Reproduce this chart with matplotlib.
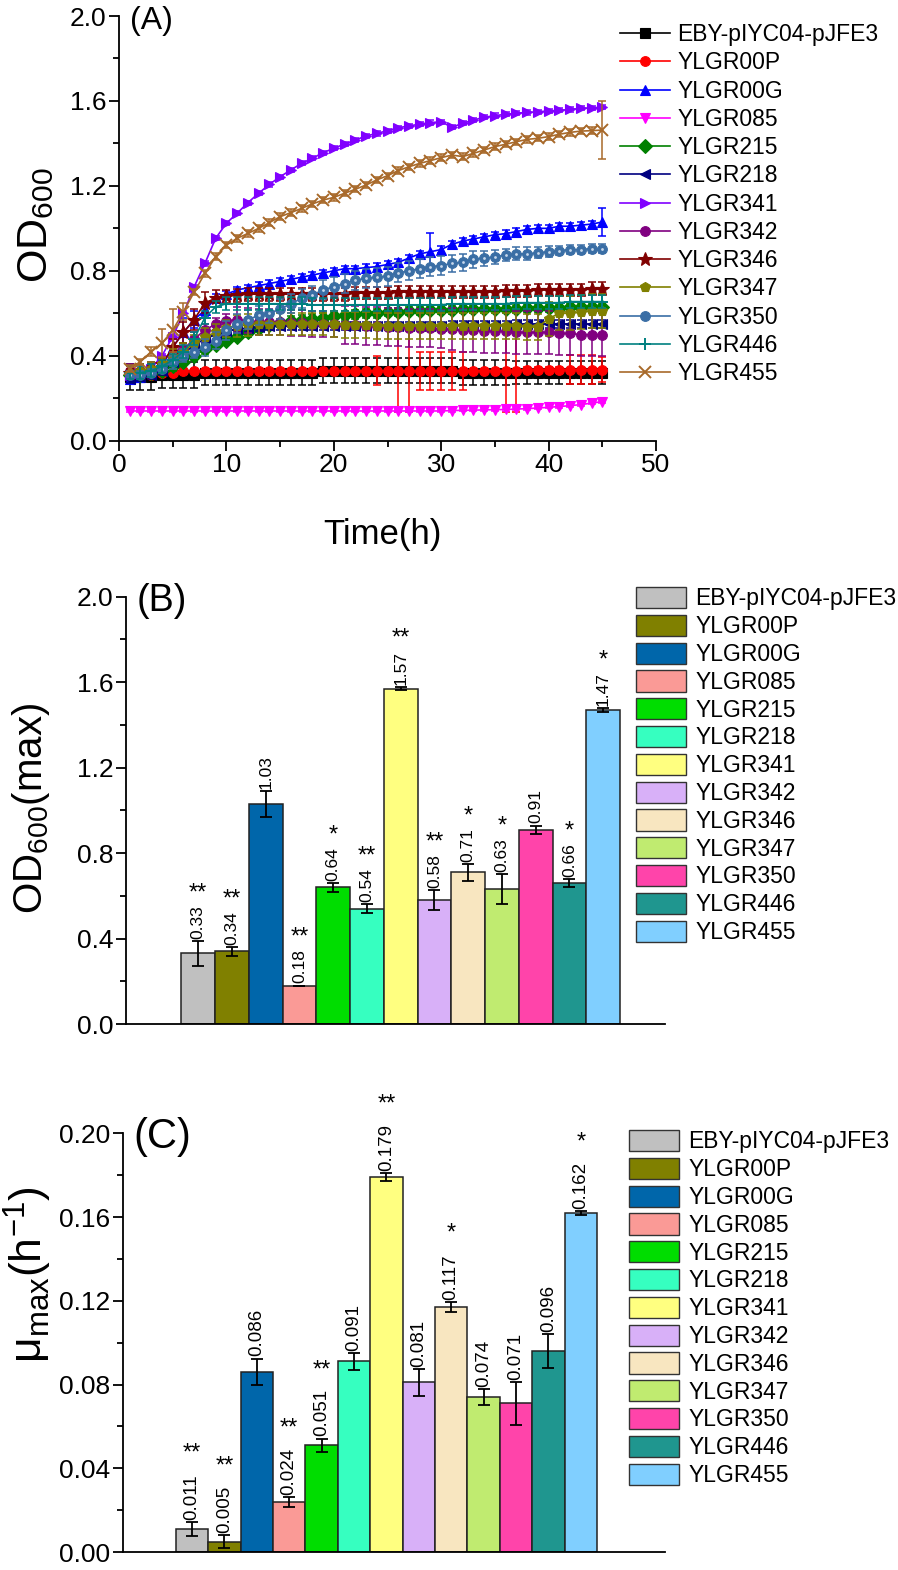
import numpy as np
import matplotlib.pyplot as plt
from matplotlib.patches import Patch

plt.rcParams['font.family'] = ['Liberation Sans', 'DejaVu Sans']
plt.rcParams['mathtext.fontset'] = 'custom'
plt.rcParams['mathtext.rm'] = 'Liberation Sans'
plt.rcParams['mathtext.it'] = 'Liberation Sans:italic'

# ---------------- data ----------------
strains = ['EBY-pIYC04-pJFE3', 'YLGR00P', 'YLGR00G', 'YLGR085', 'YLGR215', 'YLGR218',
           'YLGR341', 'YLGR342', 'YLGR346', 'YLGR347', 'YLGR350', 'YLGR446', 'YLGR455']

hours = list(range(1, 46))

od_eby = [0.30, 0.30, 0.30, 0.31, 0.31, 0.31, 0.31, 0.32, 0.32, 0.32, 0.32, 0.32, 0.32, 0.32, 0.32,
          0.32, 0.32, 0.32, 0.33, 0.33, 0.33, 0.33, 0.33, 0.33, 0.33, 0.33, 0.33, 0.33, 0.33, 0.33,
          0.33, 0.32, 0.32, 0.32, 0.32, 0.32, 0.32, 0.32, 0.32, 0.32, 0.32, 0.32, 0.32, 0.32, 0.32]
err_eby = [0.06, 0.06, 0.06, 0.06, 0.06, 0.06, 0.06, 0.06, 0.06, 0.06, 0.06, 0.06, 0.06, 0.06, 0.06,
           0.06, 0.06, 0.06, 0.06, 0.06, 0.06, 0.06, 0.06, 0.06, 0.06, 0.06, 0.06, 0.06, 0.06, 0.06,
           0.06, 0.06, 0.06, 0.06, 0.06, 0.06, 0.055, 0.055, 0.055, 0.055, 0.055, 0.055, 0.055, 0.055, 0.055]

od_00p = [0.31, 0.31, 0.31, 0.32, 0.32, 0.33, 0.33, 0.33, 0.33, 0.33, 0.33, 0.33, 0.33, 0.33, 0.33,
          0.33, 0.33, 0.33, 0.33, 0.33, 0.33, 0.33, 0.33, 0.33, 0.33, 0.33, 0.33, 0.33, 0.33, 0.33,
          0.33, 0.33, 0.33, 0.33, 0.33, 0.33, 0.33, 0.335, 0.335, 0.335, 0.335, 0.335, 0.335, 0.335, 0.335]
err_00p = [0.01, 0.01, 0.01, 0.01, 0.01, 0.01, 0.01, 0.01, 0.01, 0.01, 0.01, 0.01, 0.01, 0.01, 0.01,
           0.01, 0.01, 0.01, 0.01, 0.01, 0.01, 0.01, 0.01, 0.07, 0.01, 0.195, 0.195, 0.09, 0.09, 0.09,
           0.09, 0.09, 0.01, 0.01, 0.01, 0.195, 0.195, 0.01, 0.01, 0.01, 0.01, 0.07, 0.07, 0.07, 0.06]

od_00g = [0.29, 0.30, 0.325, 0.35, 0.44, 0.51, 0.57, 0.615, 0.67, 0.69, 0.71, 0.72, 0.73, 0.74, 0.75,
          0.76, 0.77, 0.78, 0.79, 0.80, 0.81, 0.81, 0.815, 0.82, 0.83, 0.84, 0.86, 0.88, 0.89, 0.90,
          0.925, 0.94, 0.95, 0.96, 0.97, 0.975, 0.985, 0.995, 1.0, 1.0, 1.01, 1.01, 1.015, 1.02, 1.03]
err_00g = [0.02, 0.02, 0.02, 0.03, 0.04, 0.07, 0.04, 0.03, 0.02, 0.015, 0.015, 0.015, 0.015, 0.015, 0.015,
           0.015, 0.015, 0.015, 0.015, 0.015, 0.015, 0.015, 0.015, 0.015, 0.015, 0.015, 0.015, 0.015, 0.09, 0.015,
           0.015, 0.015, 0.015, 0.015, 0.015, 0.015, 0.015, 0.015, 0.015, 0.015, 0.015, 0.015, 0.015, 0.015, 0.065]

od_085 = [0.14, 0.14, 0.14, 0.14, 0.14, 0.14, 0.14, 0.14, 0.14, 0.14, 0.14, 0.14, 0.14, 0.14, 0.14,
          0.14, 0.14, 0.14, 0.14, 0.14, 0.14, 0.14, 0.14, 0.14, 0.14, 0.14, 0.14, 0.14, 0.14, 0.14,
          0.142, 0.143, 0.144, 0.145, 0.146, 0.147, 0.149, 0.151, 0.154, 0.157, 0.161, 0.165, 0.17, 0.177, 0.184]
err_085 = [0.005, 0.005, 0.005, 0.005, 0.005, 0.005, 0.005, 0.005, 0.005, 0.005, 0.005, 0.005, 0.005, 0.005, 0.005,
           0.005, 0.005, 0.005, 0.005, 0.005, 0.005, 0.005, 0.005, 0.005, 0.005, 0.005, 0.005, 0.005, 0.005, 0.005,
           0.005, 0.005, 0.005, 0.005, 0.005, 0.005, 0.005, 0.005, 0.005, 0.005, 0.005, 0.005, 0.005, 0.005, 0.005]

od_215 = [0.31, 0.31, 0.32, 0.33, 0.35, 0.37, 0.40, 0.43, 0.45, 0.47, 0.49, 0.51, 0.53, 0.545, 0.555,
          0.565, 0.57, 0.575, 0.58, 0.585, 0.59, 0.595, 0.60, 0.60, 0.605, 0.605, 0.61, 0.61, 0.615, 0.615,
          0.615, 0.62, 0.62, 0.62, 0.62, 0.62, 0.62, 0.625, 0.625, 0.625, 0.625, 0.63, 0.63, 0.63, 0.63]
err_215 = [0.02, 0.02, 0.02, 0.02, 0.02, 0.02, 0.02, 0.02, 0.02, 0.02, 0.02, 0.02, 0.02, 0.02, 0.02,
           0.02, 0.02, 0.02, 0.02, 0.02, 0.02, 0.02, 0.02, 0.02, 0.02, 0.02, 0.02, 0.02, 0.02, 0.02,
           0.02, 0.02, 0.02, 0.02, 0.02, 0.02, 0.02, 0.02, 0.02, 0.02, 0.02, 0.02, 0.02, 0.02, 0.02]

od_218 = [0.29, 0.30, 0.31, 0.33, 0.37, 0.41, 0.45, 0.48, 0.50, 0.515, 0.525, 0.53, 0.535, 0.54, 0.54,
          0.54, 0.54, 0.54, 0.54, 0.54, 0.54, 0.54, 0.54, 0.54, 0.54, 0.54, 0.54, 0.54, 0.54, 0.54,
          0.545, 0.545, 0.545, 0.545, 0.545, 0.545, 0.55, 0.55, 0.55, 0.55, 0.55, 0.55, 0.55, 0.55, 0.55]
err_218 = [0.02, 0.02, 0.02, 0.02, 0.02, 0.02, 0.02, 0.02, 0.02, 0.02, 0.02, 0.02, 0.02, 0.02, 0.02,
           0.02, 0.02, 0.02, 0.02, 0.02, 0.02, 0.02, 0.02, 0.02, 0.02, 0.02, 0.02, 0.02, 0.02, 0.02,
           0.02, 0.02, 0.02, 0.02, 0.02, 0.02, 0.02, 0.02, 0.02, 0.02, 0.02, 0.02, 0.02, 0.02, 0.02]

od_341 = [0.31, 0.32, 0.34, 0.40, 0.49, 0.60, 0.725, 0.835, 0.953, 1.024, 1.071, 1.121, 1.165, 1.207, 1.243,
          1.275, 1.306, 1.33, 1.356, 1.377, 1.397, 1.416, 1.435, 1.447, 1.46, 1.474, 1.482, 1.491, 1.498, 1.502,
          1.476, 1.495, 1.51, 1.523, 1.531, 1.537, 1.542, 1.546, 1.549, 1.553, 1.556, 1.56, 1.565, 1.568, 1.57]
err_341 = [0.01, 0.01, 0.01, 0.01, 0.01, 0.01, 0.01, 0.01, 0.01, 0.01, 0.01, 0.01, 0.01, 0.01, 0.01,
           0.01, 0.01, 0.01, 0.01, 0.01, 0.01, 0.01, 0.01, 0.01, 0.01, 0.01, 0.01, 0.01, 0.01, 0.01,
           0.01, 0.01, 0.01, 0.01, 0.01, 0.01, 0.01, 0.01, 0.01, 0.01, 0.01, 0.01, 0.01, 0.01, 0.01]

od_342 = [0.33, 0.33, 0.34, 0.36, 0.39, 0.43, 0.48, 0.52, 0.55, 0.565, 0.57, 0.565, 0.56, 0.56, 0.56,
          0.555, 0.555, 0.55, 0.55, 0.55, 0.545, 0.545, 0.54, 0.54, 0.535, 0.535, 0.53, 0.53, 0.53, 0.525,
          0.525, 0.52, 0.52, 0.515, 0.515, 0.515, 0.51, 0.51, 0.51, 0.51, 0.505, 0.505, 0.50, 0.50, 0.50]
err_342 = [0.03, 0.03, 0.03, 0.03, 0.03, 0.03, 0.03, 0.03, 0.03, 0.03, 0.06, 0.06, 0.06, 0.06, 0.06,
           0.06, 0.06, 0.06, 0.06, 0.06, 0.09, 0.09, 0.09, 0.09, 0.09, 0.09, 0.09, 0.09, 0.09, 0.09,
           0.10, 0.10, 0.10, 0.10, 0.10, 0.10, 0.10, 0.10, 0.10, 0.10, 0.10, 0.10, 0.10, 0.10, 0.10]

od_346 = [0.32, 0.32, 0.33, 0.36, 0.44, 0.51, 0.57, 0.65, 0.67, 0.68, 0.685, 0.69, 0.69, 0.69, 0.69,
          0.69, 0.69, 0.69, 0.69, 0.69, 0.69, 0.695, 0.695, 0.695, 0.695, 0.70, 0.70, 0.70, 0.70, 0.70,
          0.70, 0.70, 0.70, 0.70, 0.70, 0.705, 0.705, 0.705, 0.71, 0.71, 0.71, 0.71, 0.71, 0.715, 0.715]
err_346 = [0.02, 0.02, 0.02, 0.03, 0.04, 0.05, 0.05, 0.05, 0.04, 0.03, 0.03, 0.03, 0.03, 0.03, 0.03,
           0.03, 0.03, 0.03, 0.03, 0.03, 0.03, 0.03, 0.03, 0.03, 0.03, 0.03, 0.03, 0.03, 0.03, 0.03,
           0.03, 0.03, 0.03, 0.03, 0.03, 0.03, 0.03, 0.03, 0.03, 0.03, 0.03, 0.03, 0.03, 0.03, 0.03]

od_347 = [0.32, 0.33, 0.34, 0.36, 0.39, 0.42, 0.46, 0.49, 0.51, 0.53, 0.54, 0.545, 0.55, 0.55, 0.55,
          0.55, 0.55, 0.55, 0.55, 0.55, 0.545, 0.545, 0.545, 0.54, 0.54, 0.54, 0.54, 0.54, 0.54, 0.54,
          0.54, 0.54, 0.54, 0.54, 0.54, 0.54, 0.54, 0.535, 0.535, 0.575, 0.60, 0.60, 0.605, 0.61, 0.61]
err_347 = [0.03, 0.03, 0.03, 0.03, 0.04, 0.04, 0.04, 0.04, 0.04, 0.04, 0.05, 0.05, 0.05, 0.05, 0.05,
           0.05, 0.05, 0.05, 0.05, 0.06, 0.06, 0.06, 0.06, 0.06, 0.06, 0.06, 0.06, 0.06, 0.06, 0.06,
           0.06, 0.06, 0.06, 0.06, 0.06, 0.06, 0.06, 0.06, 0.06, 0.08, 0.08, 0.08, 0.08, 0.08, 0.08]

od_350 = [0.31, 0.31, 0.32, 0.34, 0.37, 0.40, 0.42, 0.44, 0.47, 0.52, 0.55, 0.57, 0.59, 0.60, 0.62,
          0.645, 0.67, 0.685, 0.71, 0.725, 0.74, 0.755, 0.765, 0.77, 0.775, 0.79, 0.80, 0.81, 0.82, 0.825,
          0.835, 0.84, 0.855, 0.86, 0.865, 0.875, 0.88, 0.88, 0.885, 0.89, 0.895, 0.90, 0.90, 0.905, 0.905]
err_350 = [0.02, 0.02, 0.02, 0.02, 0.03, 0.03, 0.03, 0.04, 0.04, 0.045, 0.045, 0.045, 0.045, 0.045, 0.045,
           0.045, 0.045, 0.045, 0.045, 0.045, 0.045, 0.045, 0.045, 0.045, 0.045, 0.045, 0.045, 0.045, 0.045, 0.045,
           0.04, 0.04, 0.04, 0.035, 0.035, 0.03, 0.03, 0.03, 0.025, 0.025, 0.02, 0.02, 0.02, 0.02, 0.02]

od_446 = [0.32, 0.32, 0.33, 0.35, 0.38, 0.42, 0.48, 0.58, 0.63, 0.645, 0.645, 0.645, 0.645, 0.645, 0.645,
          0.645, 0.645, 0.64, 0.64, 0.64, 0.64, 0.64, 0.64, 0.64, 0.64, 0.64, 0.64, 0.64, 0.64, 0.64,
          0.645, 0.645, 0.645, 0.645, 0.645, 0.645, 0.65, 0.65, 0.65, 0.65, 0.65, 0.655, 0.655, 0.655, 0.655]
err_446 = [0.03, 0.03, 0.03, 0.03, 0.03, 0.03, 0.03, 0.03, 0.03, 0.03, 0.03, 0.03, 0.03, 0.03, 0.03,
           0.03, 0.03, 0.03, 0.03, 0.03, 0.03, 0.03, 0.03, 0.03, 0.03, 0.03, 0.03, 0.03, 0.03, 0.03,
           0.03, 0.03, 0.03, 0.03, 0.03, 0.03, 0.03, 0.03, 0.03, 0.03, 0.03, 0.03, 0.03, 0.03, 0.03]

od_455 = [0.34, 0.372, 0.419, 0.459, 0.52, 0.607, 0.70, 0.788, 0.867, 0.921, 0.953, 0.976, 1.0, 1.027, 1.055,
          1.074, 1.094, 1.115, 1.133, 1.146, 1.165, 1.184, 1.204, 1.228, 1.248, 1.272, 1.29, 1.306, 1.319, 1.333,
          1.345, 1.338, 1.353, 1.369, 1.385, 1.396, 1.408, 1.419, 1.424, 1.432, 1.443, 1.452, 1.458, 1.46, 1.463]
err_455 = [0.015, 0.015, 0.02, 0.067, 0.1, 0.04, 0.015, 0.015, 0.015, 0.015, 0.015, 0.015, 0.015, 0.015, 0.015,
           0.015, 0.015, 0.015, 0.015, 0.015, 0.015, 0.015, 0.015, 0.015, 0.015, 0.015, 0.015, 0.015, 0.015, 0.015,
           0.015, 0.015, 0.015, 0.015, 0.015, 0.015, 0.015, 0.015, 0.015, 0.015, 0.015, 0.015, 0.015, 0.015, 0.135]

od_series = [od_eby, od_00p, od_00g, od_085, od_215, od_218, od_341,
             od_342, od_346, od_347, od_350, od_446, od_455]
od_errors = [err_eby, err_00p, err_00g, err_085, err_215, err_218, err_341,
             err_342, err_346, err_347, err_350, err_446, err_455]

line_colors = ['#000000', '#FF0000', '#0000FF', '#FF00FF', '#008000', '#000080', '#8000FF',
               '#800080', '#800000', '#808000', '#3A6EA5', '#008080', '#A8692A']
line_markers = ['s', 'o', '^', 'v', 'D', '<', '>', 'o', '*', 'p', 'o', '+', 'x']

# panel B: maximum OD600
od_max = [0.33, 0.34, 1.03, 0.18, 0.64, 0.54, 1.57, 0.58, 0.71, 0.63, 0.91, 0.66, 1.47]
od_max_err = [0.058, 0.02, 0.062, 0.0, 0.02, 0.02, 0.009, 0.048, 0.04, 0.07, 0.019, 0.02, 0.01]
od_max_sig = ['**', '**', '', '**', '*', '**', '**', '**', '*', '*', '', '*', '*']

# panel C: maximum specific growth rate
mu_max = [0.011, 0.005, 0.086, 0.024, 0.051, 0.091, 0.179, 0.081, 0.117, 0.074, 0.071, 0.096, 0.162]
mu_max_err = [0.0032, 0.0033, 0.0064, 0.0024, 0.0032, 0.0039, 0.0019, 0.0064, 0.0024, 0.0037, 0.0102, 0.008, 0.001]
mu_max_sig = ['**', '**', '', '**', '**', '', '**', '', '*', '', '', '', '*']

bar_colors = ['#C0C0C0', '#808000', '#0066AA', '#FA9A96', '#00DD00', '#36FFC0', '#FFFF80',
              '#D8B0F8', '#F8E6C0', '#C0EB70', '#FF44AA', '#1F968F', '#80CFFF']

# ---------------- figure ----------------
W, H = 898, 1570
fig = plt.figure(figsize=(W / 100, H / 100), dpi=100)


def axes_px(left, top, right, bottom):
    return fig.add_axes([left / W, 1 - bottom / H, (right - left) / W, (bottom - top) / H])


def style_axis(ax):
    for s in ['top', 'right']:
        ax.spines[s].set_visible(False)
    for s in ['left', 'bottom']:
        ax.spines[s].set_linewidth(1.3)
    ax.tick_params(which='major', direction='out', length=7, width=1.3, labelsize=19, pad=2)
    ax.tick_params(which='minor', direction='out', length=4, width=1.3)


# ---- (A) growth curves
axA = axes_px(119, 16, 656, 440.7)
for name, y, e, c, m in zip(strains, od_series, od_errors, line_colors, line_markers):
    axA.errorbar(hours, y, yerr=e, fmt='none', ecolor=c, elinewidth=1.1, capsize=3, capthick=1.1)
    ms = 7
    if m in ['+', 'x']:
        ms = 8
    if m == '*':
        ms = 10
    axA.plot(hours, y, color=c, marker=m, markersize=ms, markeredgewidth=1.4 if m in ['+', 'x'] else 0.8,
             linewidth=1.2, label=name)
    if name == 'YLGR350':
        axA.plot(hours, y, linestyle='none', marker='o', markersize=2, color='#C8D8EC', markeredgewidth=0)
axA.set_xlim(0, 50)
axA.set_ylim(0, 2.0)
axA.set_xticks([0, 10, 20, 30, 40, 50])
axA.set_xticks([5, 15, 25, 35, 45], minor=True)
axA.set_yticks([0.0, 0.4, 0.8, 1.2, 1.6, 2.0])
axA.set_yticks([0.2, 0.6, 1.0, 1.4, 1.8], minor=True)
axA.yaxis.set_major_formatter(plt.FormatStrFormatter('%.1f'))
style_axis(axA)
axA.set_xlabel('Time(h)', fontsize=25)
axA.xaxis.set_label_coords(382 / W, 1 - 518 / H, transform=fig.transFigure)
axA.set_ylabel('OD$_{600}$', fontsize=31)
axA.yaxis.set_label_coords(56 / W, 1 - 225 / H, transform=fig.transFigure)
axA.text(130 / W, 1 - 21 / H, '(A)', transform=fig.transFigure, fontsize=23, va='center', ha='left')
axA.legend(loc='upper left', bbox_to_anchor=(620 / W, 1 - 23 / H), bbox_transform=fig.transFigure,
           frameon=False, fontsize=16.5, handlelength=2.2, handletextpad=0.3, labelspacing=0.23,
           borderpad=0, borderaxespad=0)


# ---- bar panels
def bar_panel(box, values, errs, sig, ylim, yticks, yminor, fmt, label_fmt, label_size, xlim,
              star_off, leg_x, leg_top):
    ax = axes_px(*box)
    x = np.arange(1, len(values) + 1)
    ax.bar(x, values, width=1.0, color=bar_colors, edgecolor='#222222', linewidth=1.1, zorder=2)
    ax.errorbar(x, values, yerr=errs, fmt='none', ecolor='black', elinewidth=1.3,
                capsize=4, capthick=1.3, zorder=3)
    for xi, v, e, s in zip(x, values, errs, sig):
        t = ax.annotate(label_fmt.format(v), (xi, v + e), xytext=(0, 1.5), textcoords='offset points',
                        rotation=90, ha='center', va='bottom', fontsize=label_size)
        t.set_clip_on(True)
        if s:
            ax.annotate(s, (xi, v + e), xytext=(0, star_off), textcoords='offset points',
                        ha='center', va='baseline', fontsize=17, annotation_clip=False)
    ax.set_xlim(*xlim)
    ax.set_ylim(*ylim)
    ax.set_xticks([])
    ax.set_yticks(yticks)
    ax.set_yticks(yminor, minor=True)
    ax.yaxis.set_major_formatter(plt.FormatStrFormatter(fmt))
    style_axis(ax)
    handles = [Patch(facecolor=c, edgecolor='#333333', linewidth=1.0) for c in bar_colors]
    ax.legend(handles, strains, loc='upper left', bbox_to_anchor=(leg_x / W, 1 - leg_top / H),
              bbox_transform=fig.transFigure, frameon=False, fontsize=16.5, handlelength=2.2,
              handleheight=1.05, handletextpad=0.4, labelspacing=0.19, borderpad=0, borderaxespad=0)
    return ax


axB = bar_panel((125.7, 596.7, 665, 1024), od_max, od_max_err, od_max_sig,
                (0, 2.0), [0.0, 0.4, 0.8, 1.2, 1.6, 2.0], [0.2, 0.6, 1.0, 1.4, 1.8], '%.1f', '{:.2f}', 12.5,
                (-1.151, 14.833), 30, 636, 587)
axB.set_ylabel('OD$_{600}$(max)', fontsize=29)
axB.yaxis.set_label_coords(52 / W, 1 - 808 / H, transform=fig.transFigure)
axB.text(137 / W, 1 - 601 / H, '(B)', transform=fig.transFigure, fontsize=27, va='center', ha='left')

axC = bar_panel((122.7, 1133.3, 665, 1552), mu_max, mu_max_err, mu_max_sig,
                (0, 0.20), [0.00, 0.04, 0.08, 0.12, 0.16, 0.20], [0.02, 0.06, 0.10, 0.14, 0.18], '%.2f', '{:.3f}', 13.5,
                (-1.139, 15.6), 45, 629, 1130)
axC.set_ylabel('μ$_{\\mathrm{max}}$(h$^{\\mathrm{-1}}$)', fontsize=32)
axC.yaxis.set_label_coords(54 / W, 1 - 1275 / H, transform=fig.transFigure)
axC.text(133 / W, 1 - 1137 / H, '(C)', transform=fig.transFigure, fontsize=30, va='center', ha='left')

fig.savefig('out.png', dpi=100)
